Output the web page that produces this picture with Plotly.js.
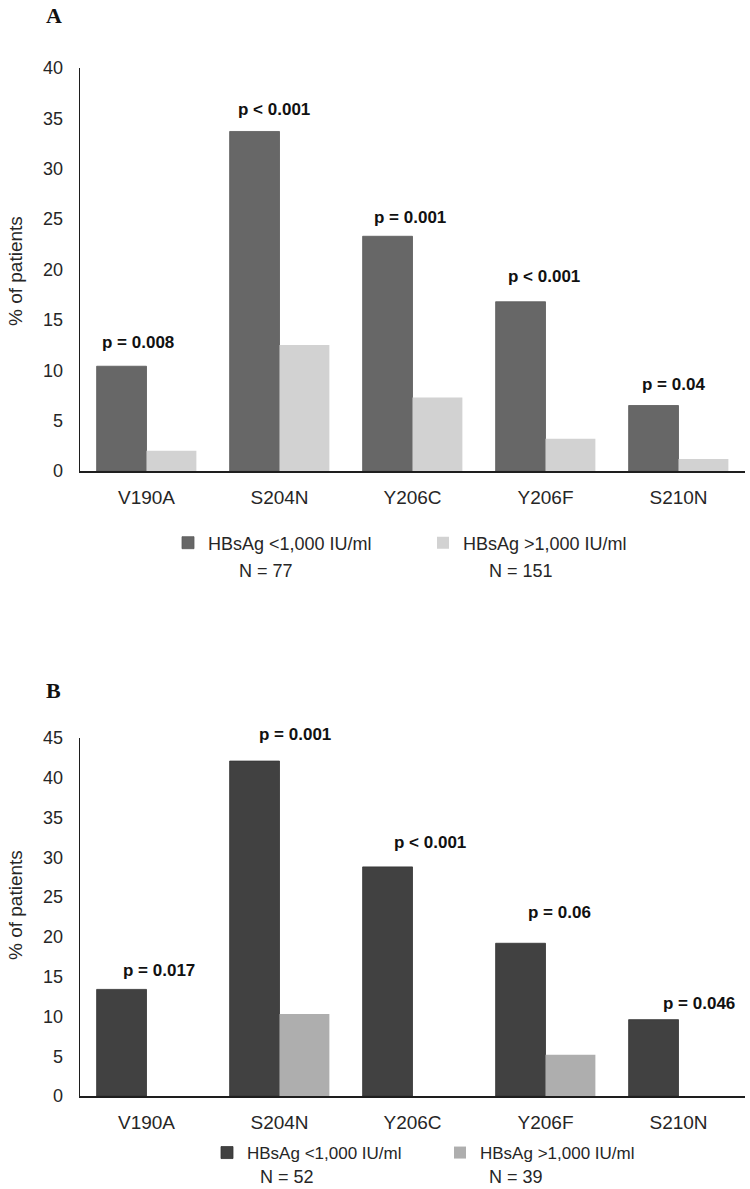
<!DOCTYPE html>
<html>
<head>
<meta charset="utf-8">
<script src="https://cdn.plot.ly/plotly-3.0.1.min.js"></script>
<style>html,body{margin:0;padding:0;background:#fff}#chart{width:750px;height:1189px}</style>
</head>
<body>
<div id="chart"></div>
<script>
// ---------- DATA ----------
const categories = ['V190A', 'S204N', 'Y206C', 'Y206F', 'S210N'];
const seriesNames = ['HBsAg <1,000 IU/ml', 'HBsAg >1,000 IU/ml'];

const lowA  = [10.4, 33.7, 23.3, 16.8, 6.5];
const highA = [2.0, 12.5, 7.3, 3.2, 1.2];
const pA    = ['p = 0.008', 'p < 0.001', 'p = 0.001', 'p < 0.001', 'p = 0.04'];
const nA    = ['N = 77', 'N = 151'];

const lowB  = [13.4, 42.1, 28.8, 19.2, 9.6];
const highB = [0, 10.3, 0, 5.2, 0];
const pB    = ['p = 0.017', 'p = 0.001', 'p < 0.001', 'p = 0.06', 'p = 0.046'];
const nB    = ['N = 52', 'N = 39'];

// ---------- LAYOUT HELPERS ----------
const W = 750, H = 1189;
const px = v => v / W;
const py = v => 1 - v / H;
const FONT = 'Liberation Sans, Arial, sans-serif';
const TXT = '#262626';

// label nudges (pixels) for p-value annotations
const nudgeA = {dx: [-9, -6, -3, -2, -5], dy: [24, 22, 19, 25, 21]};
const nudgeB = {dx: [12, 15, 17, 14, 20], dy: [19, 27, 24, 31, 16]};

const traces = [
  {type: 'bar', x: categories, y: lowA, name: seriesNames[0], xaxis: 'x', yaxis: 'y', legend: 'legend',
   marker: {color: '#676767', line: {color: '#5a5a5a', width: 0.8}}, hoverinfo: 'skip'},
  {type: 'bar', x: categories, y: highA, name: seriesNames[1], xaxis: 'x', yaxis: 'y', legend: 'legend',
   marker: {color: '#d2d2d2', line: {width: 0}}, hoverinfo: 'skip'},
  {type: 'bar', x: categories, y: lowB, name: seriesNames[0], xaxis: 'x2', yaxis: 'y2', legend: 'legend2',
   marker: {color: '#414141', line: {color: '#333333', width: 0.8}}, hoverinfo: 'skip'},
  {type: 'bar', x: categories, y: highB, name: seriesNames[1], xaxis: 'x2', yaxis: 'y2', legend: 'legend2',
   marker: {color: '#aeaeae', line: {width: 0}}, hoverinfo: 'skip'}
];

const xCommon = {
  type: 'category', range: [-0.5, 4.5], showline: true, linecolor: '#1e1e1e', linewidth: 2,
  ticks: '', showgrid: false, zeroline: false, fixedrange: true,
  tickfont: {family: FONT, size: 19, color: TXT}, ticklabelstandoff: 8
};
const yCommon = {
  showline: true, linecolor: '#1e1e1e', linewidth: 1.3, ticks: '', showgrid: false,
  zeroline: false, fixedrange: true, dtick: 5,
  tickfont: {family: FONT, size: 18, color: TXT}, ticklabelstandoff: 12
};

const annotations = [];
function pLabels(vals, labels, nudge, xr, yr) {
  vals.forEach((v, i) => {
    annotations.push({
      x: categories[i], y: v, xref: xr, yref: yr, text: labels[i], showarrow: false,
      xanchor: 'center', yanchor: 'middle', xshift: nudge.dx[i], yshift: nudge.dy[i],
      font: {family: FONT, size: 17, color: '#111', weight: 'bold'}
    });
  });
}
pLabels(lowA, pA, nudgeA, 'x', 'y');
pLabels(lowB, pB, nudgeB, 'x2', 'y2');

// panel letters
const LETTER_FONT = {family: 'Liberation Serif, Times New Roman, serif', size: 22, color: '#111'};
annotations.push({text: '<b>A</b>', xref: 'paper', yref: 'paper', x: px(54), y: py(16), showarrow: false,
  xanchor: 'center', yanchor: 'middle', font: LETTER_FONT});
annotations.push({text: '<b>B</b>', xref: 'paper', yref: 'paper', x: px(54), y: py(690), showarrow: false,
  xanchor: 'center', yanchor: 'middle', font: LETTER_FONT});

// y titles
annotations.push({text: '% of patients', xref: 'paper', yref: 'paper', x: px(15), y: py(271), showarrow: false,
  textangle: -90, xanchor: 'center', yanchor: 'middle', font: {family: FONT, size: 19, color: TXT}});
annotations.push({text: '% of patients', xref: 'paper', yref: 'paper', x: px(15), y: py(905), showarrow: false,
  textangle: -90, xanchor: 'center', yanchor: 'middle', font: {family: FONT, size: 19, color: TXT}});

// N labels under legend entries
[[nA, [266, 521], 571], [nB, [287, 516], 1177]].forEach(([arr, xs, yy]) => {
  arr.forEach((t, i) => annotations.push({text: t, xref: 'paper', yref: 'paper', x: px(xs[i]), y: py(yy),
    showarrow: false, xanchor: 'center', yanchor: 'middle', font: {family: FONT, size: 18, color: TXT}}));
});

const layout = {
  width: W, height: H, margin: {l: 0, r: 0, t: 0, b: 0},
  paper_bgcolor: '#fff', plot_bgcolor: '#fff',
  barmode: 'group', bargap: 0.25, bargroupgap: 0,
  xaxis: Object.assign({}, xCommon, {domain: [px(80), px(745)], anchor: 'y'}),
  yaxis: Object.assign({}, yCommon, {domain: [py(471), py(68)], range: [0, 40], anchor: 'x'}),
  xaxis2: Object.assign({}, xCommon, {domain: [px(80), px(745)], anchor: 'y2'}),
  yaxis2: Object.assign({}, yCommon, {domain: [py(1096), py(738)], range: [0, 45], anchor: 'x2'}),
  legend: {orientation: 'h', x: px(168), y: py(543), xanchor: 'left', yanchor: 'middle',
    font: {family: FONT, size: 18, color: TXT}, entrywidth: 210, traceorder: 'normal', bgcolor: 'rgba(0,0,0,0)'},
  legend2: {orientation: 'h', x: px(207), y: py(1153), xanchor: 'left', yanchor: 'middle',
    font: {family: FONT, size: 17, color: TXT}, entrywidth: 188, traceorder: 'normal', bgcolor: 'rgba(0,0,0,0)'},
  annotations: annotations,
  font: {family: FONT, color: TXT}
};

Plotly.newPlot('chart', traces, layout, {staticPlot: true, displayModeBar: false});
</script>
</body>
</html>
